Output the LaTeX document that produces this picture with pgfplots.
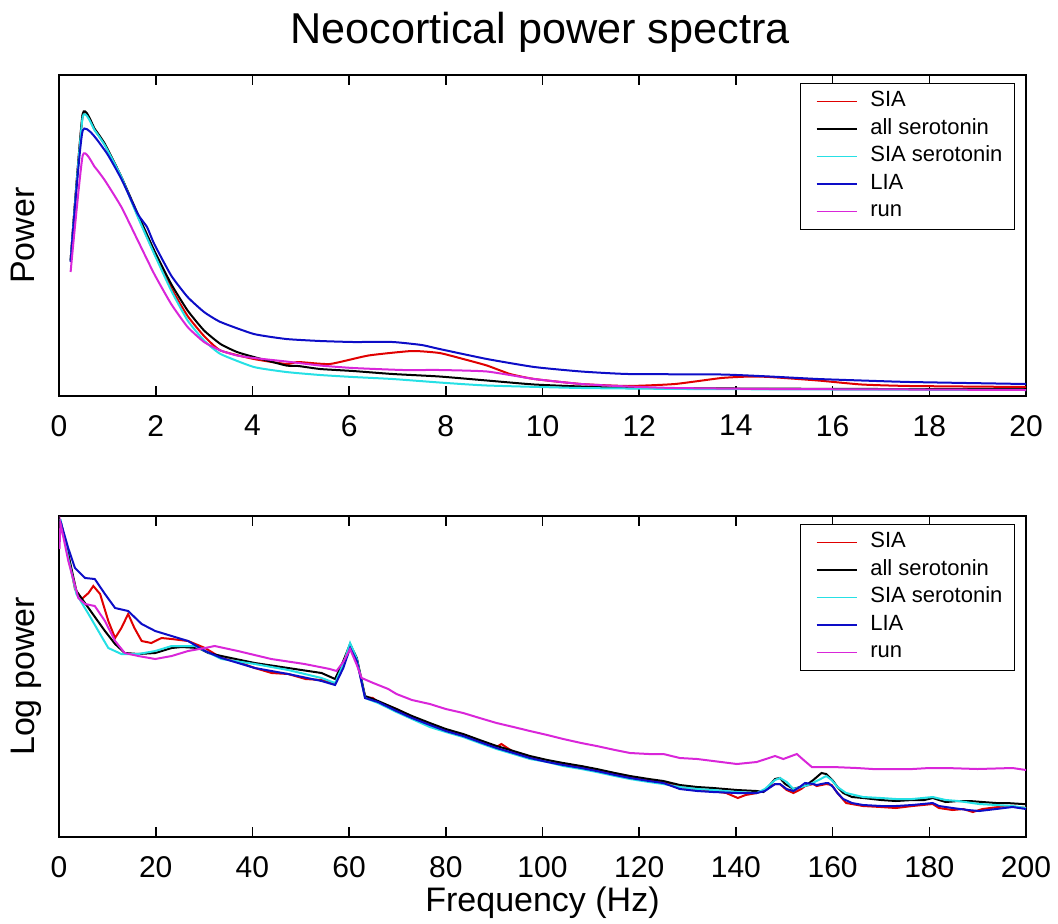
\documentclass[border=0pt]{standalone}
\usepackage{pgfplots}
\pgfplotsset{compat=1.18}
\usepackage{fontspec}
\setmainfont{Liberation Sans}
\definecolor{cSIA}{rgb}{0.88,0.0,0.0}
\definecolor{cAll}{rgb}{0,0,0}
\definecolor{cSIAs}{rgb}{0.15,0.88,0.9}
\definecolor{cLIA}{rgb}{0.05,0.05,0.78}
\definecolor{cRun}{rgb}{0.85,0.15,0.85}
\pgfplotsset{
  myax/.style={
    scale only axis, width=483.5pt, height=160.5pt, anchor=south west,
    ytick=\empty, tick align=inside, major tick length=5pt,
    axis line style={line width=0.9pt},
    every tick/.style={black,line width=0.8pt},
    /pgf/number format/assume math mode=true,
    ticklabel style={font=\fontsize{15}{18}\selectfont},
    xticklabel style={yshift=-6pt},
    label style={font=\fontsize{17}{20}\selectfont},
    ylabel style={at={(axis description cs:-0.025,0.5)}, anchor=base},
    legend cell align=left,
    legend image code/.code={\path (0pt,0pt); \draw[##1, line width=0.8pt] (1.5pt,0pt) -- (21.5pt,0pt);},
    legend style={at={(axis description cs:1,1)}, anchor=north east,
      xshift=-5.5pt, yshift=-4pt, draw=black, line width=0.6pt,
      font=\fontsize{11}{13}\selectfont, inner xsep=6pt, inner ysep=2pt,
      nodes={inner ysep=1.5pt, inner xsep=0pt, text height=8pt, text depth=2.75pt},
      /tikz/every odd column/.append style={column sep=6.5pt}},
    every axis plot/.append style={line width=1pt},
  }
}
\begin{document}
\begin{tikzpicture}
\useasboundingbox (0,0) rectangle (529pt,461.5pt);
\node[anchor=base, font=\fontsize{21.6}{25}\selectfont] at (270pt,439.5pt) {Neocortical power spectra};
\begin{axis}[myax, at={(29.5pt,263.5pt)}, xmin=0, xmax=20, ymin=0, ymax=321,
  xtick={0,2,...,20}, ylabel={Power}, every axis plot/.append style={smooth, tension=0.3}]
\addplot[cSIA] coordinates {(0.24,135.5)(0.49,281)(0.74,266)(0.95,251)(1.29,219)(1.63,180)(1.97,143)(2.32,108)(2.66,80)(3.0,60)(3.34,45.5)(4.03,37)(4.7,32)(4.95,34)(5.6,32)(6.4,40.5)(7.3,45)(7.87,43)(8.36,37)(8.85,30.5)(9.33,22)(9.83,17)(10.8,12)(11.77,10)(12.74,12)(13.7,18)(14.3,19.5)(14.7,19)(15.7,15.5)(16.6,11.5)(17.6,10)(20,9)};
\addlegendentry{SIA}
\addplot[cAll] coordinates {(0.24,135.5)(0.49,282)(0.74,267)(0.95,252)(1.29,219)(1.63,182)(1.97,145.5)(2.32,112)(2.66,85.5)(3.0,65.5)(3.34,52)(3.68,44)(4.03,39)(4.7,30.5)(4.95,30)(5.4,27)(6.08,25)(6.9,22)(7.87,19.5)(8.85,15.5)(9.83,11.5)(10.8,9.5)(11.77,8)(14,7.5)(17,7)(20,7)};
\addlegendentry{all serotonin}
\addplot[cSIAs] coordinates {(0.24,135.5)(0.49,279)(0.74,265.5)(0.95,250.5)(1.29,219)(1.63,179)(1.97,142)(2.32,105.5)(2.66,75.5)(3.0,55.5)(3.34,42)(4.03,29)(4.7,24)(5.4,21)(6.08,19)(6.9,17)(7.87,13.5)(8.85,10.5)(10.8,8)(13,7)(16,6.5)(20,6)};
\addlegendentry{SIA serotonin}
\addplot[cLIA] coordinates {(0.24,134)(0.49,265.5)(0.95,245.5)(1.29,217)(1.63,182)(1.82,169)(1.97,152)(2.32,120.5)(2.66,99)(3.0,84)(3.34,74)(4.03,62)(4.7,57)(5.4,55)(6.08,54)(6.9,54)(7.5,51)(7.87,47)(8.85,37)(9.83,29)(10.8,24.5)(11.77,22)(13.7,21.5)(14.7,19.5)(15.7,17)(16.6,15.5)(17.6,14)(20,12)};
\addlegendentry{LIA}
\addplot[cRun] coordinates {(0.24,124)(0.49,240.5)(0.74,229)(0.95,215.5)(1.29,189)(1.63,155.5)(1.97,122)(2.32,92)(2.66,69)(3.0,54)(3.34,45.5)(3.68,40.5)(4.03,38)(4.7,34.5)(5.4,30.5)(6.08,28)(7.11,26)(7.87,26)(8.85,24.5)(9.83,17)(10.8,12)(11.77,9.5)(12.74,8)(14.7,7)(17.6,6.5)(20,6)};
\addlegendentry{run}
\end{axis}
\begin{axis}[myax, at={(29.5pt,43pt)}, xmin=0, xmax=200, ymin=0, ymax=321,
  xtick={0,20,...,200}, ylabel={Log power}, xlabel={Frequency (Hz)},
  xlabel style={at={(axis description cs:0.5,0)}, anchor=base, yshift=-37pt}]
\addplot[cSIA] coordinates {(0.3,316)(1.9,283)(3.3,248)(4.7,238)(6.1,244)(7.1,251)(8.5,243)(10.2,216)(11.6,199)(12.9,209)(14.3,223)(15.6,209)(17.1,196)(19.1,194)(21.2,199)(23.3,198)(26.7,196)(30.2,189)(33.6,179)(37,175)(40.5,169)(44,164)(47.4,163)(51,158)(54.3,157)(57.1,153)(58.8,171)(60.2,192)(61.6,177)(63.3,140)(64.9,139)(66,135)(69.8,128)(73,120)(76.7,113)(80,107)(83.6,102)(87,96)(90.5,90)(91.5,93)(94,85)(97.4,80)(101,76)(104.3,73)(108,70)(111.2,67)(115,63)(118.1,60)(122,57)(125,55)(128.4,50)(132,48)(135.3,46)(138,44)(140.4,39)(142,42)(144.3,44)(146,47)(148.1,53)(149.1,53)(150.5,47)(151.9,44)(153.5,48)(154.3,51)(156,53)(156.7,51)(158.7,53)(159.8,52)(161,44)(162.8,34)(166.3,31)(170,30)(173.1,29)(176.5,31)(180.7,33)(182,29)(184.8,27)(187,28)(189,25)(191,28)(195.9,31)(198,30)(200,29)};
\addlegendentry{SIA}
\addplot[cAll] coordinates {(0.3,316)(1.9,283)(3.6,246)(6.1,229)(9.5,206)(11.6,193)(13.6,184)(16.4,183)(19.9,184)(23.3,189)(25.4,190)(28.8,189)(30.9,184)(33.6,181)(40.5,174)(47.4,169)(54.3,164)(57.1,158)(58.8,176)(60.2,193)(61.6,179)(63.3,141)(66,136)(69.8,128)(73,121)(76.7,114)(80,108)(83.6,103)(87,97)(90.5,91)(94,86)(97.4,81)(101,77)(104.3,74)(108,71)(111.2,68)(115,64)(118.1,61)(122,58)(125,56)(128.4,52)(132,50)(135.3,49)(140.2,47)(144.3,46)(145.7,45)(147,52)(148.1,58)(149.1,59)(150.2,53)(151.9,48)(153.2,50)(154.3,51)(156,57)(157.7,64)(158.7,63)(160.1,56)(161,50)(162.2,44)(164,40)(166.3,39)(170,37)(173.1,36)(176.5,37)(179,37)(180.7,39)(182,37)(183.4,35)(186,36)(188.3,36)(191,35)(193.8,34)(196,34)(199.3,33)(200,33)};
\addlegendentry{all serotonin}
\addplot[cSIAs] coordinates {(0.3,318)(1.9,279)(3.6,243)(6.1,223)(8.5,203)(10.2,189)(12.9,183)(16.4,183)(19.9,186)(23.3,191)(28.1,191)(30.2,186)(33.6,178)(40.5,173)(47.4,167)(54.3,159)(57.1,154)(58.8,173)(60.2,194)(61.6,178)(63.3,139)(66,134)(69.8,125)(73,118)(76.7,110)(80,105)(83.6,100)(87,94)(90.5,88)(94,83)(97.4,78)(101,75)(104.3,71)(108,68)(111.2,65)(115,61)(118.1,58)(122,55)(125,53)(128.4,50)(132,48)(135.3,47)(140.2,45)(144.3,44)(146,48)(148.1,57)(149.1,59)(150.5,55)(151.9,48)(153.5,50)(155,52)(156.7,56)(158.7,61)(159.8,57)(161,50)(162.8,44)(166.3,40)(170,39)(173.1,38)(176.5,38)(180.7,40)(183.4,37)(186,36)(190.3,33)(193.8,32)(197.2,31)(200,29)};
\addlegendentry{SIA serotonin}
\addplot[cLIA] coordinates {(0.3,316)(1.9,289)(3.3,269)(5.4,259)(7.4,258)(9.5,243)(11.6,229)(14.3,226)(17.1,213)(19.9,206)(23.3,201)(26.7,196)(30.2,186)(33.6,179)(40.5,169)(47.4,163)(54.3,156)(57.1,152)(58.8,169)(60.2,189)(61.6,176)(63.3,139)(66,135)(69.8,126)(73,119)(76.7,112)(80,106)(83.6,101)(87,95)(90.5,89)(94,84)(97.4,79)(101,75)(104.3,72)(108,69)(111.2,66)(115,62)(118.1,59)(122,56)(125,54)(128.4,48)(132,46)(135.3,45)(140.2,44)(144.3,44)(146,46)(148.1,53)(149.1,53)(150.5,48)(151.9,46)(153.2,50)(154.3,54)(156,53)(156.7,52)(158.7,54)(159.1,54)(160.1,50)(161,44)(162.2,38)(164,34)(166.3,32)(170,31)(173.1,31)(176.5,32)(180.7,34)(182,31)(184.8,29)(188,27)(190.3,26)(193.8,28)(197.2,30)(200,28)};
\addlegendentry{LIA}
\addplot[cRun] coordinates {(0.1,288)(0.3,314)(1.93,276)(4.0,239)(5.4,233)(7.4,231)(9.5,216)(11.6,196)(13.6,184)(16.4,181)(19.9,178)(23.3,181)(26.7,186)(30.2,189)(32.2,191)(37.0,186)(43.9,178)(50.8,173)(56,168)(57.4,166)(58.8,175)(60.2,188)(61.6,172)(62.6,159)(65,154)(68.1,148)(69.8,143)(73,137)(76.7,133)(80,128)(83.6,124)(87,119)(90.5,114)(94,110)(97.4,106)(101,102)(104.3,98)(108,94)(111.2,91)(115,87)(118.1,84)(122,83)(125,83)(128.4,79)(132,78)(135.3,76)(140.2,73)(144.3,75)(148.1,81)(149.8,78)(152.6,83)(154,77)(155.7,70)(160,70)(165,69)(168.3,68)(176.5,68)(180,69)(183.4,69)(190,68)(197.2,69)(200,67)};
\addlegendentry{run}
\end{axis}
\end{tikzpicture}
\end{document}
